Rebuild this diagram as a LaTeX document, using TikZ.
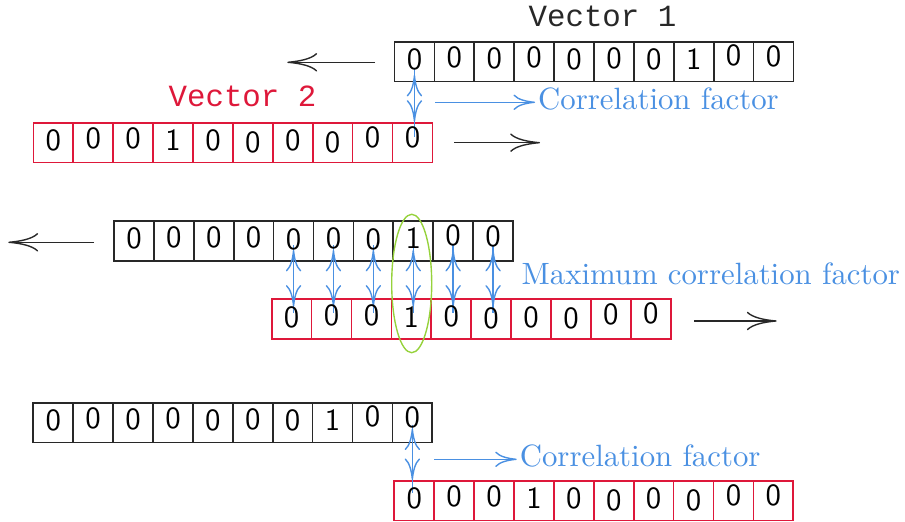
\documentclass[tikz,border=0pt]{standalone}
\usepackage{fontspec}
\newfontfamily\vecfont{Liberation Mono}
\usetikzlibrary{arrows.meta,calc,shapes.geometric}
\definecolor{vred}{RGB}{222,24,58}
\definecolor{vblue}{RGB}{74,144,226}
\definecolor{vgreen}{RGB}{150,210,60}
\definecolor{vdark}{RGB}{40,40,40}
\newcommand\vecrowboxes[4]{%
  \foreach \i in {1,...,10}{%
    \node[cellbox=#4] (#1c\i) at ({#2+39.9*(\i-0.5)},{#3+19.95}) {};
  }}
\newcommand\vecrowdigits[2]{%
  \foreach \dg/\dy [count=\i] in {#2}{%
    \node[digit] (#1d\i) at ($(#1c\i.center)+(0,\dy)$) {\dg};
  }}
\begin{document}
\begin{tikzpicture}[x=0.3247pt,y=-0.3247pt,
  cellbox/.style={draw=#1, line width=0.55pt, minimum width=12.955pt, minimum height=12.955pt, inner sep=0pt, outer sep=0pt},
  digit/.style={font=\sffamily, inner sep=0pt},
  movearrow/.style={draw=vdark, line width=0.45pt, -{Computer Modern Rightarrow[length=9.7pt,width=6pt]}},
  corrline/.style={draw=vblue, line width=0.45pt},
  corrarrow/.style={draw=vblue, line width=0.45pt, {Computer Modern Rightarrow[length=7pt,width=5pt]}-{Computer Modern Rightarrow[length=7pt,width=5pt]}},
  ptrarrow/.style={draw=vblue, line width=0.45pt, -{Computer Modern Rightarrow[length=7pt,width=5pt]}},
  lbl/.style={text=vblue, inner sep=0pt, anchor=base west},
  veclabel/.style={font=\vecfont, inner sep=0pt, anchor=base},
]
\useasboundingbox (0,0) rectangle (905,522);

% cell boxes
\vecrowboxes{ra}{394.5}{41.7}{vdark}
\vecrowboxes{rb}{33.4}{122.7}{vred}
\vecrowboxes{rc}{114}{221}{vdark}
\vecrowboxes{rd}{271.7}{299.3}{vred}
\vecrowboxes{re}{33.3}{402.7}{vdark}
\vecrowboxes{rf}{394.3}{480.7}{vred}

% shift arrows
\coordinate (mas) at (375,62.3);   \coordinate (mae) at (287.3,62.3);
\coordinate (mbs) at (454,142.7);  \coordinate (mbe) at (540,142.7);
\coordinate (mcs) at (94,242.3);   \coordinate (mce) at (8.3,242.3);
\coordinate (mds) at (694.3,321);  \coordinate (mde) at (776.7,321);
\draw[movearrow] (mas) -- (mae);
\draw[movearrow] (mbs) -- (mbe);
\draw[movearrow] (mcs) -- (mce);
\draw[movearrow] (mds) -- (mde);

% ellipse around the best match
\node[draw=vgreen, line width=0.45pt, ellipse, inner sep=0pt, minimum width=12.99pt, minimum height=44.94pt] (best) at (411.7,283.5) {};

% comparison connectors
\draw[corrline] ($(rac1.center)+(0,6)$) -- ($(rac1.center |- rbc10.center)+(0,-6)$);
\draw[corrarrow, shorten <=4.3pt, shorten >=6.8pt] (rac1.center) -- (rac1.center |- rbc10.center);
\foreach \t/\b in {5/1,6/2,7/3,8/4,9/5,10/6}{
  \draw[corrline] ($(rcc\t.center)+(0,4)$) -- ($(rcc\t.center |- rdc\b.center)+(0,-6)$);
  \draw[corrarrow, shorten <=2.9pt, shorten >=4.1pt] (rcc\t.center) -- (rcc\t.center |- rdc\b.center);
}
\draw[corrline] ($(rec10.center)+(0,2)$) -- ($(rec10.center |- rfc1.center)+(0,-8)$);
\draw[corrarrow, shorten <=1.9pt, shorten >=6.7pt] (rec10.center) -- (rec10.center |- rfc1.center);

% labels (anchors for pointer arrows)
\node[lbl] (cfa) at (537.5,110) {Correlation factor};
\node[lbl] (mcf) at (521,284.3) {Maximum correlation factor};
\node[lbl] (cfb) at (519.2,466.7) {Correlation factor};
\coordinate (pas) at (435,102.3);
\coordinate (pbs) at (434.3,459.3);
\draw[ptrarrow] (pas) -- ([xshift=-0.8pt]pas -| cfa.west);
\draw[ptrarrow] (pbs) -- ([xshift=-0.8pt]pbs -| cfb.west);

% digits
\vecrowdigits{ra}{0/-2.5,0/-4,0/-3.5,0/-4,0/-2,0/-3,0/-2,1/-2.5,0/-6,0/-5}
\vecrowdigits{rb}{0/-2,0/-4,0/-4,1/-2.5,0/-2.5,0/-0.5,0/-2,0/-0.5,0/-5,0/-5.5}
\vecrowdigits{rc}{0/-2.5,0/-4,0/-3.5,0/-4,0/-2,0/-3,0/-2,1/-2.5,0/-6,0/-5}
\vecrowdigits{rd}{0/-2,0/-4,0/-4,1/-2.5,0/-2.5,0/-0.5,0/-2,0/-0.5,0/-5,0/-5.5}
\vecrowdigits{re}{0/-2.5,0/-4,0/-3.5,0/-4,0/-2,0/-3,0/-2,1/-2.5,0/-6,0/-5}
\vecrowdigits{rf}{0/-2,0/-4,0/-4,1/-2.5,0/-2.5,0/-0.5,0/-2,0/-0.5,0/-5,0/-5.5}

% vector labels
\node[veclabel, text=vdark] (vone) at (602.5,26.7) {Vector 1};
\node[veclabel, text=vred] (vtwo) at (242.5,106.7) {Vector 2};
\end{tikzpicture}
\end{document}
